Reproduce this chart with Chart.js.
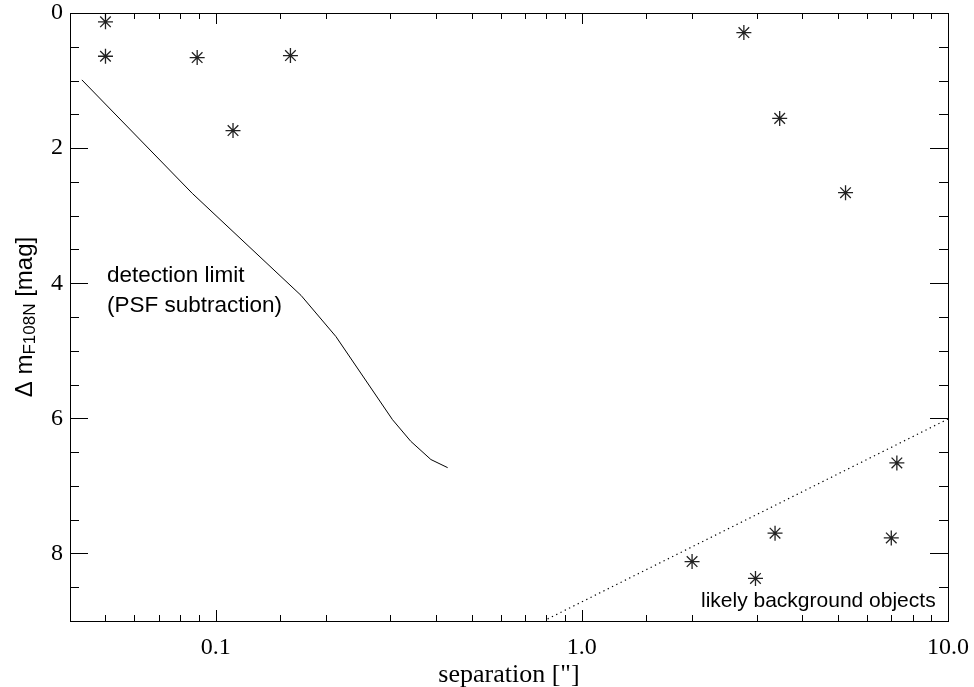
<!DOCTYPE html>
<html>
<head>
<meta charset="utf-8">
<script src="https://cdn.jsdelivr.net/npm/chart.js@4.4.1/dist/chart.umd.min.js"></script>
<style>
  html, body { margin: 0; background: #fff; }
  canvas { display: block; }
</style>
</head>
<body>
<canvas id="sepChart" width="974" height="687"></canvas>
<script>
// detected companion candidates
const companionSep = [0.05, 0.05, 0.089, 0.1115, 0.16, 2.77, 3.47, 5.25, 7.25, 2.0, 3.37, 2.98, 7.0];
const companionDm  = [0.13, 0.64, 0.66, 1.74, 0.63, 0.29, 1.56, 2.66, 6.66, 8.12, 7.70, 8.37, 7.77];

// detection limit curve (PSF subtraction)
const limitSep = [0.0431, 0.0863, 0.171, 0.213, 0.304, 0.341, 0.387, 0.430];
const limitDm  = [0.99, 2.67, 4.18, 4.79, 6.02, 6.34, 6.61, 6.73];

// background boundary (dotted)
const backgroundSep = [0.806, 10];
const backgroundDm  = [8.97, 6.01];

// labelled ticks
const xLabelValues = [0.1, 1, 10];
const xLabelTexts  = ['0.1', '1.0', '10.0'];
const yLabelValues = [0, 2, 4, 6, 8];

function toPoints(xs, ys) {
    return xs.map((x, i) => ({ x: x, y: ys[i] }));
}

// IDL-like frame: inward ticks on all four sides, titles and notes
const framePlugin = {
    id: 'frameTicks',
    afterDraw(chart) {
        const ctx = chart.ctx;
        const area = chart.chartArea;
        const xs = chart.scales.x;
        const ys = chart.scales.y;

        ctx.save();
        ctx.strokeStyle = '#000';
        ctx.lineWidth = 1;
        ctx.strokeRect(area.left + 0.5, area.top + 0.5, area.right - area.left, area.bottom - area.top);

        ctx.beginPath();
        xs.ticks.forEach(t => {
            const px = Math.round(xs.getPixelForValue(t.value)) + 0.5;
            const lg = Math.log10(t.value);
            const len = Math.abs(lg - Math.round(lg)) < 1e-6 ? 11 : 6;
            ctx.moveTo(px, area.bottom);
            ctx.lineTo(px, area.bottom - len);
            ctx.moveTo(px, area.top);
            ctx.lineTo(px, area.top + len);
        });
        ys.ticks.forEach(t => {
            const py = Math.round(ys.getPixelForValue(t.value)) + 0.5;
            const len = yLabelValues.includes(t.value) ? 18 : 9;
            ctx.moveTo(area.left, py);
            ctx.lineTo(area.left + len, py);
            ctx.moveTo(area.right, py);
            ctx.lineTo(area.right - len, py);
        });
        ctx.stroke();

        ctx.fillStyle = '#000';
        ctx.textBaseline = 'alphabetic';

        // x title
        ctx.font = '26px "Liberation Serif"';
        ctx.textAlign = 'center';
        ctx.fillText('separation ["]', (area.left + area.right) / 2, 682);

        // y title with subscript
        ctx.textAlign = 'left';
        const mainFont = '24px "Liberation Sans"';
        const subFont = '17px "Liberation Sans"';
        const parts = [
            { text: '\u0394 m', font: mainFont, dy: 0 },
            { text: 'F108N', font: subFont, dy: 3 },
            { text: ' [mag]', font: mainFont, dy: 0 }
        ];
        let total = 0;
        parts.forEach(p => { ctx.font = p.font; p.w = ctx.measureText(p.text).width; total += p.w; });
        ctx.translate(0, (area.top + area.bottom) / 2);
        ctx.rotate(-Math.PI / 2);
        let u = -total / 2;
        parts.forEach(p => {
            ctx.font = p.font;
            ctx.fillText(p.text, u, 32 + p.dy);
            u += p.w;
        });
        ctx.restore();

        // notes
        ctx.save();
        ctx.fillStyle = '#000';
        ctx.textAlign = 'left';
        ctx.textBaseline = 'alphabetic';
        ctx.font = '22.5px "Liberation Sans"';
        ctx.fillText('detection limit', 107, 282);
        ctx.fillText('(PSF subtraction)', 107, 312);
        ctx.font = '21px "Liberation Sans"';
        ctx.fillText('likely background objects', 701, 607);
        ctx.restore();
    }
};

new Chart(document.getElementById('sepChart'), {
    type: 'scatter',
    data: {
        datasets: [
            {
                label: 'companions',
                data: toPoints(companionSep, companionDm),
                pointStyle: 'star',
                pointRadius: 7.5,
                pointBorderWidth: 1.3,
                borderColor: '#222',
                backgroundColor: 'rgba(0,0,0,0)',
                showLine: false
            },
            {
                label: 'detection limit',
                data: toPoints(limitSep, limitDm),
                showLine: true,
                pointRadius: 0,
                borderColor: '#000',
                borderWidth: 1,
                tension: 0
            },
            {
                label: 'background',
                data: toPoints(backgroundSep, backgroundDm),
                showLine: true,
                pointRadius: 0,
                borderColor: '#000',
                borderWidth: 1.2,
                borderDash: [1.3, 3.5]
            }
        ]
    },
    options: {
        responsive: false,
        animation: false,
        layout: { padding: { top: 13, right: 26, left: 0, bottom: 0 } },
        plugins: {
            legend: { display: false },
            tooltip: { enabled: false }
        },
        scales: {
            x: {
                type: 'logarithmic',
                position: 'bottom',
                min: 0.04,
                max: 10,
                grid: { display: false, drawTicks: false },
                border: { display: false },
                ticks: {
                    autoSkip: false,
                    maxRotation: 0,
                    padding: 12,
                    color: '#000',
                    font: { family: 'Liberation Serif', size: 24 },
                    callback: function(value) {
                        const i = xLabelValues.findIndex(v => Math.abs(Math.log10(v) - Math.log10(value)) < 1e-6);
                        return i >= 0 ? xLabelTexts[i] : '';
                    }
                },
                afterFit: function(scale) {
                    scale.height = 66;
                    scale.paddingLeft = 0;
                    scale.paddingRight = 0;
                }
            },
            y: {
                type: 'linear',
                reverse: true,
                min: 0,
                max: 9,
                grid: { display: false, drawTicks: false },
                border: { display: false },
                ticks: {
                    stepSize: 0.5,
                    padding: 7,
                    color: '#000',
                    font: { family: 'Liberation Serif', size: 24 },
                    callback: function(value) {
                        return yLabelValues.includes(value) ? String(value) : '';
                    }
                },
                afterFit: function(scale) {
                    scale.width = 70;
                    scale.paddingTop = 0;
                    scale.paddingBottom = 0;
                }
            }
        }
    },
    plugins: [framePlugin]
});
</script>
</body>
</html>
